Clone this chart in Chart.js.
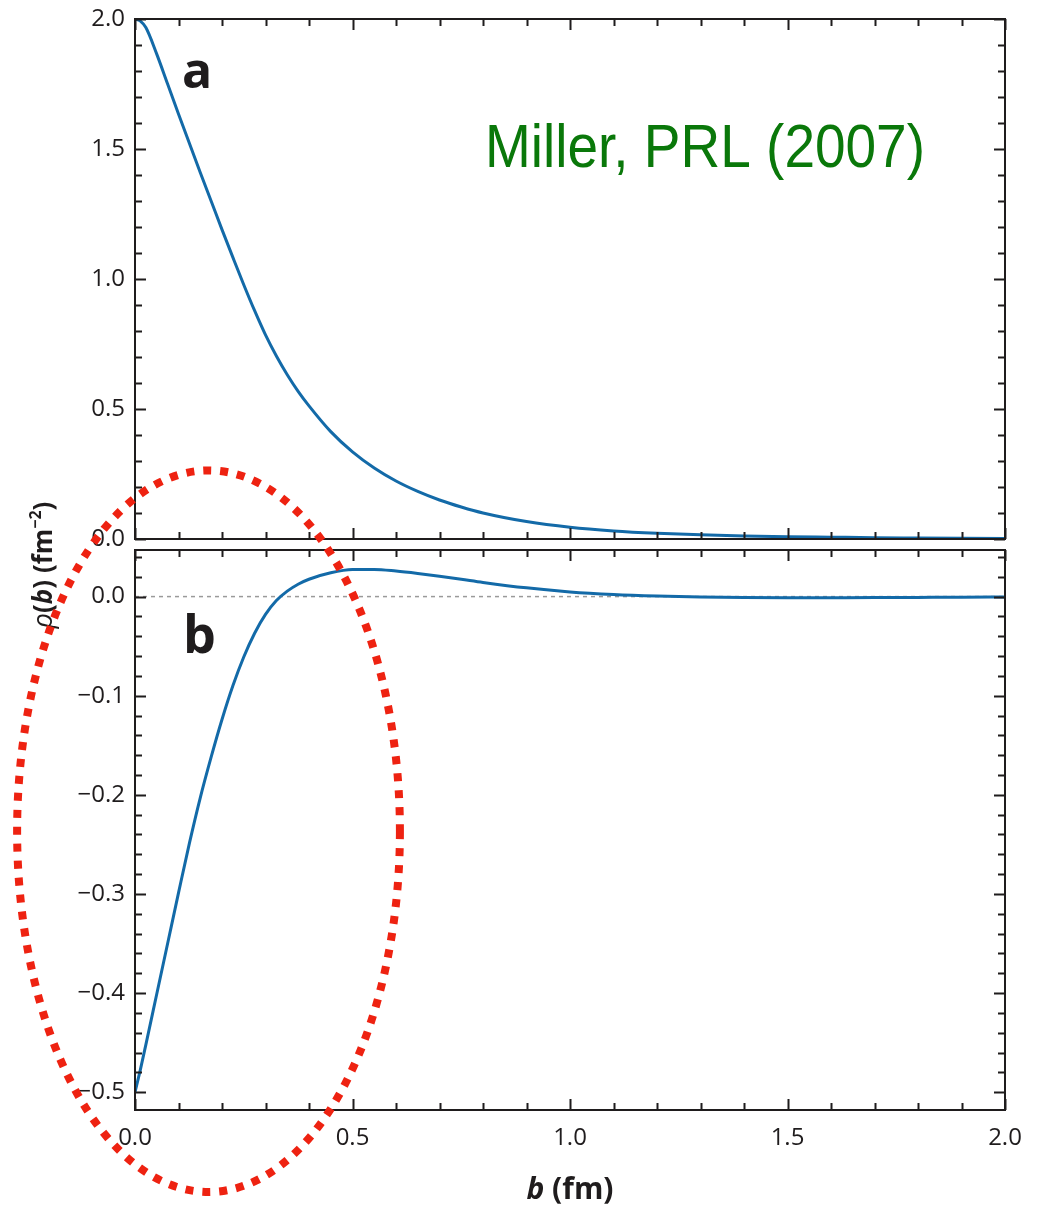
<!DOCTYPE html>
<html>
<head>
<meta charset="utf-8">
<script src="https://cdn.jsdelivr.net/npm/chart.js@4.4.0/dist/chart.umd.min.js"></script>
<style>
  body { margin: 0; background: #fff; overflow: hidden; }
  #wrap { position: relative; width: 1037px; height: 1205px; overflow: hidden; }
  #wrap canvas { position: absolute; left: 0; }
  #topChart { top: -40px; }
  #bottomChart { top: 0; }
</style>
</head>
<body>
<div id="wrap">
  <canvas id="topChart" width="1037" height="640"></canvas>
  <canvas id="bottomChart" width="1037" height="1205"></canvas>
</div>
<script>
// impact parameter b (fm)
const bValues = [0, 0.0125, 0.025, 0.05, 0.075, 0.1, 0.125, 0.15, 0.175, 0.2, 0.225,
  0.25, 0.275, 0.3, 0.325, 0.35, 0.375, 0.4,
  0.45, 0.5, 0.55, 0.6, 0.65, 0.7, 0.75, 0.8,
  0.9, 1.0, 1.1, 1.2, 1.3, 1.4, 1.5, 1.6, 1.7, 1.8, 1.9, 2.0];
// transverse charge density, proton (panel a)
const rhoProton = [2.0, 1.992, 1.967, 1.865, 1.75, 1.635, 1.522, 1.41, 1.30, 1.19, 1.083,
  0.978, 0.878, 0.785, 0.704, 0.632, 0.568, 0.512,
  0.413, 0.335, 0.273, 0.223, 0.183, 0.150, 0.123, 0.100,
  0.067, 0.045, 0.031, 0.022, 0.016, 0.012, 0.009, 0.007, 0.005, 0.004, 0.003, 0.002];
// transverse charge density, neutron (panel b)
const rhoNeutron = [-0.5, -0.477, -0.452, -0.401, -0.35, -0.299, -0.249, -0.203, -0.162, -0.124, -0.09,
  -0.061, -0.037, -0.018, -0.004, 0.0055, 0.0125, 0.0175,
  0.024, 0.0273, 0.0274, 0.0258, 0.0234, 0.0206, 0.0175, 0.0143,
  0.0088, 0.0047, 0.0021, 0.0005, -0.0005, -0.001, -0.0012, -0.0011, -0.001, -0.0008, -0.0006, -0.0005];

const xTicks = [0, 0.5, 1.0, 1.5, 2.0];
const yTicksTop = [0, 0.5, 1.0, 1.5, 2.0];
const yTicksBottom = [-0.5, -0.4, -0.3, -0.2, -0.1, 0.0];
const zeroLine = [0, 2];

// highlighted region around the neutron's negative core: centre and half-widths in (b, rho)
const ringCenter = [0.169, -0.2367];
const ringRadius = [0.44, 0.364];

const INK = '#1f1c1d';
const BLUE = '#136aa8';
const FONT = "'Open Sans', 'Noto Sans', sans-serif";

Chart.defaults.font.family = FONT;
Chart.defaults.color = INK;

function fmtTick(v) {
  const s = Math.abs(v).toFixed(1);
  return v < -1e-9 ? '\u2212' + s : s;
}

function pairs(xs, ys) {
  return xs.map((x, i) => ({ x: x, y: ys[i] }));
}

// frame + inward ticks on all four sides
const frameTicks = {
  id: 'frameTicks',
  afterDatasetsDraw(chart, args, opts) {
    const { ctx, chartArea: a, scales } = chart;
    const xs = scales.x, ys = scales.y;
    ctx.save();
    ctx.strokeStyle = INK;
    ctx.lineWidth = 2;
    ctx.strokeRect(a.left, a.top, a.right - a.left, a.bottom - a.top);

    const steps = (min, max, step) => {
      const out = [];
      for (let k = Math.ceil(min / step - 1e-9); k * step <= max + 1e-9; k++) out.push(k * step);
      return out;
    };
    const isMajor = (v, m) => Math.abs(v / m - Math.round(v / m)) < 1e-6;

    ctx.beginPath();
    steps(xs.min, xs.max, opts.xMinor).forEach(v => {
      const px = Math.round(xs.getPixelForValue(v)) + 0.5;
      const len = isMajor(v, opts.xMajor) ? 11 : 7;
      ctx.moveTo(px, a.bottom); ctx.lineTo(px, a.bottom - len);
      ctx.moveTo(px, a.top); ctx.lineTo(px, a.top + len);
    });
    steps(ys.min, ys.max, opts.yMinor).forEach(v => {
      const py = Math.round(ys.getPixelForValue(v)) + 0.5;
      const len = isMajor(v, opts.yMajor) ? 11 : 7;
      ctx.moveTo(a.left, py); ctx.lineTo(a.left + len, py);
      ctx.moveTo(a.right, py); ctx.lineTo(a.right - len, py);
    });
    ctx.stroke();
    ctx.restore();
  }
};

// draws a row of differently styled text runs, centred on (0,0) of the current transform
function drawRuns(ctx, runs) {
  let total = 0;
  runs.forEach(r => { ctx.font = r.font; r.w = ctx.measureText(r.text).width; total += r.w; });
  let x = -total / 2;
  ctx.textBaseline = 'alphabetic';
  ctx.textAlign = 'left';
  runs.forEach(r => {
    ctx.font = r.font;
    ctx.fillText(r.text, x, r.dy || 0);
    x += r.w;
  });
}

const topLabels = {
  id: 'topLabels',
  afterDraw(chart) {
    const { ctx, chartArea: a } = chart;
    ctx.save();
    ctx.fillStyle = INK;
    ctx.font = 'bold 50px ' + FONT;
    ctx.textAlign = 'left';
    ctx.textBaseline = 'alphabetic';
    ctx.fillText('a', a.left + 47, a.top + 69);

    // reference note, squeezed to the width it takes in the figure
    const note = 'Miller, PRL (2007)';
    ctx.fillStyle = '#0a780a';
    ctx.font = '61px "Liberation Sans", Arial, sans-serif';
    const w = ctx.measureText(note).width;
    ctx.translate(a.left + 350, a.top + 148);
    ctx.scale(440 / w, 1);
    ctx.fillText(note, 0, 0);
    ctx.restore();
  }
};

const bottomLabels = {
  id: 'bottomLabels',
  afterDraw(chart) {
    const { ctx, chartArea: a, scales } = chart;
    ctx.save();
    ctx.fillStyle = INK;
    ctx.font = 'bold 52px ' + FONT;
    ctx.textAlign = 'left';
    ctx.textBaseline = 'alphabetic';
    ctx.fillText('b', a.left + 48, a.top + 103);

    // x axis title
    ctx.save();
    ctx.translate((a.left + a.right) / 2, 1199);
    drawRuns(ctx, [
      { text: 'b', font: 'italic bold 30px ' + FONT },
      { text: ' (fm)', font: 'bold 30px ' + FONT }
    ]);
    ctx.restore();

    // y axis title, shared by both panels
    ctx.save();
    ctx.translate(52, 565);
    ctx.rotate(-Math.PI / 2);
    drawRuns(ctx, [
      { text: '\u03c1', font: 'italic 27px ' + FONT },
      { text: '(', font: 'bold 26px ' + FONT },
      { text: 'b', font: 'italic bold 26px ' + FONT },
      { text: ') (fm', font: 'bold 26px ' + FONT },
      { text: '\u22122', font: 'bold 16px ' + FONT, dy: -11 },
      { text: ')', font: 'bold 26px ' + FONT }
    ]);
    ctx.restore();

    // dotted red ring
    const cx = scales.x.getPixelForValue(ringCenter[0]);
    const cy = scales.y.getPixelForValue(ringCenter[1]);
    const rx = scales.x.getPixelForValue(ringCenter[0] + ringRadius[0]) - cx;
    const ry = scales.y.getPixelForValue(ringCenter[1] - ringRadius[1]) - cy;
    ctx.strokeStyle = '#ee2211';
    ctx.lineWidth = 8;
    ctx.setLineDash([8, 9]);
    ctx.beginPath();
    ctx.ellipse(cx, cy, rx, ry, 0, 0, Math.PI * 2);
    ctx.stroke();
    ctx.restore();
  }
};

const tickFont = { size: 24, family: FONT };

new Chart(document.getElementById('topChart'), {
  type: 'line',
  data: {
    datasets: [{
      data: pairs(bValues, rhoProton),
      borderColor: BLUE,
      borderWidth: 3,
      pointRadius: 0,
      cubicInterpolationMode: 'monotone',
      fill: false
    }]
  },
  options: {
    responsive: false,
    animation: false,
    // canvas sits 40px above the page, so the plot box spans page y 19..539
    layout: { padding: { top: 59, right: 32, bottom: 61, left: 0 } },
    plugins: { legend: { display: false }, tooltip: { enabled: false }, frameTicks: { xMinor: 0.1, xMajor: 0.5, yMinor: 0.1, yMajor: 0.5 } },
    scales: {
      x: { type: 'linear', min: 0, max: 2, display: false },
      y: {
        type: 'linear', min: 0, max: 2,
        afterBuildTicks: s => { s.ticks = yTicksTop.map(v => ({ value: v })); },
        afterFit: s => { s.width = 135; },
        grid: { display: false, drawTicks: false },
        border: { display: false },
        ticks: { font: tickFont, color: INK, padding: 10, callback: v => fmtTick(v) }
      }
    }
  },
  plugins: [frameTicks, topLabels]
});

new Chart(document.getElementById('bottomChart'), {
  type: 'line',
  data: {
    datasets: [{
      data: pairs(bValues, rhoNeutron),
      borderColor: BLUE,
      borderWidth: 3,
      pointRadius: 0,
      cubicInterpolationMode: 'monotone',
      fill: false,
      order: 0
    }, {
      data: pairs(zeroLine, [0, 0]),
      borderColor: '#9a9a9a',
      borderWidth: 1.5,
      borderDash: [4, 4],
      pointRadius: 0,
      fill: false,
      order: 1
    }]
  },
  options: {
    responsive: false,
    animation: false,
    layout: { padding: { top: 550, right: 32, bottom: 0, left: 0 } },
    plugins: { legend: { display: false }, tooltip: { enabled: false }, frameTicks: { xMinor: 0.1, xMajor: 0.5, yMinor: 0.02, yMajor: 0.1 } },
    scales: {
      x: {
        type: 'linear', min: 0, max: 2,
        afterBuildTicks: s => { s.ticks = xTicks.map(v => ({ value: v })); },
        afterFit: s => { s.height = 95; },
        grid: { display: false, drawTicks: false },
        border: { display: false },
        ticks: { font: tickFont, color: INK, padding: 14, maxRotation: 0, callback: v => fmtTick(v) }
      },
      y: {
        type: 'linear', min: -0.518, max: 0.047,
        afterBuildTicks: s => { s.ticks = yTicksBottom.map(v => ({ value: v })); },
        afterFit: s => { s.width = 135; },
        grid: { display: false, drawTicks: false },
        border: { display: false },
        ticks: { font: tickFont, color: INK, padding: 10, callback: v => fmtTick(v) }
      }
    }
  },
  plugins: [frameTicks, bottomLabels]
});
</script>
</body>
</html>
